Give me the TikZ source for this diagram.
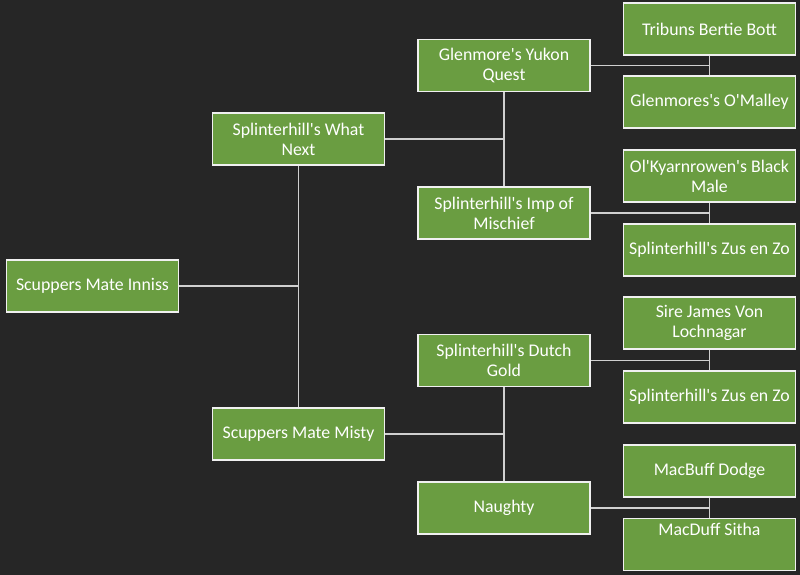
\documentclass[tikz,border=0pt]{standalone}
\usepackage{fontspec}
\setmainfont{Carlito}
\newcommand{\ap}{\textquotesingle}
\definecolor{bgc}{HTML}{262626}
\definecolor{boxg}{HTML}{6A9D41}
\definecolor{edgec}{HTML}{F0F0F0}
\definecolor{linec}{HTML}{D0D0D0}
\begin{document}
\begin{tikzpicture}[x=1pt,y=-1pt,
  pbox/.style={draw=edgec,line width=1.6pt,fill=boxg,text=white,
    minimum width=172pt,minimum height=52pt,inner sep=0pt,align=center,
    font=\fontsize{17.8}{19.8}\selectfont},
  conn/.style={draw=linec,line width=1.4pt}]
\fill[bgc] (0,0) rectangle (800,575);
\useasboundingbox (0,0) rectangle (800,575);
\node[pbox] (inniss) at (92.5,286) {Scuppers Mate Inniss};
\node[pbox] (whatnext) at (298.5,139) {Splinterhill\ap s What\\Next};
\node[pbox] (misty) at (298.5,434) {Scuppers Mate Misty};
\node[pbox] (yukon) at (504,65.5) {Glenmore\ap s Yukon\\Quest};
\node[pbox] (imp) at (504,213) {Splinterhill\ap s Imp of\\Mischief};
\node[pbox] (dutch) at (504,360.5) {Splinterhill\ap s Dutch\\Gold};
\node[pbox] (naughty) at (504,508) {Naughty};
\node[pbox] (tribuns) at (709.5,29) {Tribuns Bertie Bott};
\node[pbox] (omalley) at (709.5,102) {Glenmores\ap s O\ap Malley};
\node[pbox] (black) at (709.5,176) {Ol\ap Kyarnrowen\ap s Black\\Male};
\node[pbox] (zus1) at (709.5,250) {Splinterhill\ap s Zus en Zo};
\node[pbox] (sire) at (709.5,323) {Sire James Von\\Lochnagar};
\node[pbox] (zus2) at (709.5,397) {Splinterhill\ap s Zus en Zo};
\node[pbox] (dodge) at (709.5,471) {MacBuff Dodge};
\node[pbox] (sitha) at (709.5,544.5) {MacDuff Sitha\\[4pt]\strut};
\draw[conn] (whatnext.south) -- (misty.north);
\draw[conn] (inniss.east) -- (whatnext.south |- inniss.east);
\draw[conn] (yukon.south) -- (imp.north);
\draw[conn] (whatnext.east) -- (yukon.south |- whatnext.east);
\draw[conn] (dutch.south) -- (naughty.north);
\draw[conn] (misty.east) -- (dutch.south |- misty.east);
\draw[conn] (tribuns.south) -- (omalley.north);
\draw[conn] (yukon.east) -- (tribuns.south |- yukon.east);
\draw[conn] (black.south) -- (zus1.north);
\draw[conn] (imp.east) -- (black.south |- imp.east);
\draw[conn] (sire.south) -- (zus2.north);
\draw[conn] (dutch.east) -- (sire.south |- dutch.east);
\draw[conn] (dodge.south) -- (sitha.north);
\draw[conn] (naughty.east) -- (dodge.south |- naughty.east);
\end{tikzpicture}
\end{document}
